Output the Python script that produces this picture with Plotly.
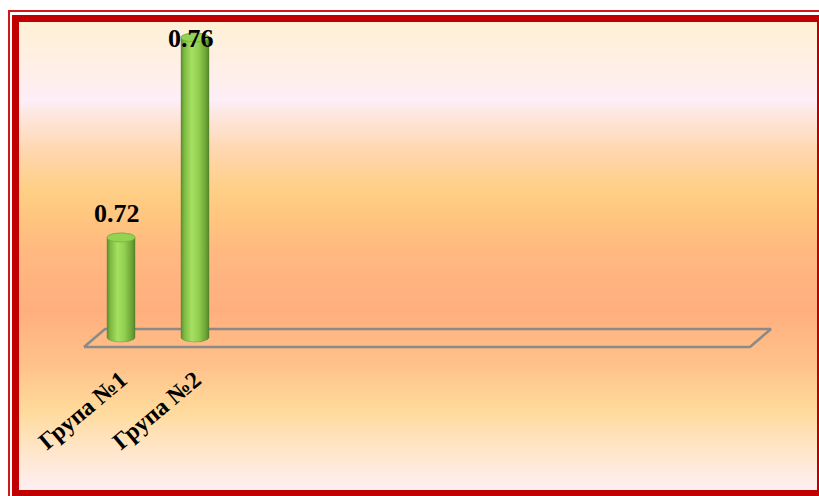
import numpy as np
import plotly.graph_objects as go

# ---------------- data ----------------
categories = ["Група №1", "Група №2"]
values = [0.72, 0.76]
n_slots = 9          # category slots on the floor (only first two used)
y_base = 0.70        # axis minimum (bars start here)

# ---------------- geometry / style constants ----------------
W, H = 819, 496
PX_PER_X = 74.0        # pixels per category slot
PX_PER_Y = 5000.0      # pixels per value unit
X0_PX = 121.0          # pixel of category 0
YBASE_PX = 337.5       # pixel of y_base
plot_px = dict(left=60, right=800, top=22, bottom=360)

def px_to_x(px):
    return (px - X0_PX) / PX_PER_X

def py_to_y(py):
    return y_base + (YBASE_PX - py) / PX_PER_Y

x_range = [px_to_x(plot_px["left"]), px_to_x(plot_px["right"])]
y_range = [py_to_y(plot_px["bottom"]), py_to_y(plot_px["top"])]

half_w = 14 / PX_PER_X
ell_h = 4.5 / PX_PER_Y
depth_dx = 21 / PX_PER_X
depth_dy = 18 / PX_PER_Y
front_y = py_to_y(347)

bg_stops = [
    (22, "#FFF1D6"), (60, "#FFEFE3"), (100, "#FDEEF8"), (120, "#FEE4D6"),
    (153, "#FFD6AC"), (190, "#FFCF85"), (220, "#FFC47F"), (253, "#FFB880"),
    (310, "#FFAF7E"), (367, "#FFC38A"), (410, "#FFDA9C"), (450, "#FFE6C9"),
    (490, "#FDEEF2"),
]

fig = go.Figure()

# ---------------- background gradient (own axes, drawn first) ----------------
ys = np.linspace(bg_stops[0][0], bg_stops[-1][0], 240)
span = bg_stops[-1][0] - bg_stops[0][0]
zcol = (ys - bg_stops[0][0]) / span
fig.add_trace(go.Heatmap(
    x=[0, 1], y=ys, z=np.column_stack([zcol, zcol]),
    colorscale=[[(p - bg_stops[0][0]) / span, c] for p, c in bg_stops],
    zmin=0, zmax=1, showscale=False, zsmooth="best", hoverinfo="skip",
    xaxis="x", yaxis="y",
))

# ---------------- floor (3D base) ----------------
fx0, fx1 = -0.5, n_slots - 0.5
fig.add_trace(go.Scatter(
    x=[fx0, fx1, fx1 + depth_dx, fx0 + depth_dx, fx0],
    y=[front_y, front_y, front_y + depth_dy, front_y + depth_dy, front_y],
    mode="lines", line=dict(color="#8A8A8A", width=2.5),
    hoverinfo="skip", showlegend=False, xaxis="x2", yaxis="y2",
))

# ---------------- cylinders ----------------
t_low = np.linspace(np.pi, 2 * np.pi, 40)   # lower half (front)
t_up = np.linspace(0, np.pi, 40)            # upper half (back)
t_full = np.linspace(0, 2 * np.pi, 80)
body_scale = [[0.0, "#5B922B"], [0.12, "#7DB942"], [0.38, "#A6E062"],
              [0.62, "#92D050"], [0.88, "#6DA536"], [1.0, "#55862A"]]
for i, v in enumerate(values):
    bx = list(i + half_w * np.cos(t_low)) + list(i + half_w * np.cos(t_up))
    by = list(y_base + ell_h * np.sin(t_low)) + list(v + ell_h * np.sin(t_up))
    bx.append(bx[0]); by.append(by[0])
    fig.add_trace(go.Scatter(
        x=bx, y=by, mode="lines", fill="toself",
        line=dict(width=0.6, color="rgba(80,120,40,0.6)"),
        fillgradient=dict(type="horizontal", colorscale=body_scale),
        hoverinfo="skip", showlegend=False, xaxis="x2", yaxis="y2",
    ))
    fig.add_trace(go.Scatter(
        x=i + half_w * np.cos(t_full), y=v + ell_h * np.sin(t_full),
        mode="lines", fill="toself", fillcolor="#94D352",
        line=dict(width=0.8, color="#78B23E"),
        hoverinfo="skip", showlegend=False, xaxis="x2", yaxis="y2",
    ))

# ---------------- value labels ----------------
label_font = dict(family="Liberation Serif, Times New Roman, serif", size=26,
                  color="black", weight="bold")
label_gap = 7 / PX_PER_Y
label_h = 26 / PX_PER_Y
for i, v in enumerate(values):
    ly = v + label_gap
    anchor = "bottom"
    if ly + label_h > y_range[1]:
        ly = y_range[1]
        anchor = "top"
    fig.add_annotation(x=i - 0.06, y=ly, xref="x2", yref="y2", text=f"{v:.2f}",
                       showarrow=False, yanchor=anchor, font=label_font)

# ---------------- frame ----------------
shapes = [
    dict(type="rect", xref="paper", yref="paper", layer="above",
         x0=9 / W, x1=1.05, y0=-0.05, y1=1 - 11 / H,
         line=dict(color="#D01818", width=2)),
    dict(type="rect", xref="paper", yref="paper", layer="above",
         x0=15.5 / W, x1=820.5 / W, y0=1 - 493.5 / H, y1=1 - 18.5 / H,
         line=dict(color="#C00000", width=7)),
]

fig.update_layout(
    width=W, height=H, autosize=False,
    margin=dict(l=0, r=0, t=0, b=0, pad=0, autoexpand=False),
    paper_bgcolor="white", plot_bgcolor="rgba(0,0,0,0)",
    showlegend=False, shapes=shapes,
    xaxis=dict(domain=[19 / W, 1], range=[0, 1], visible=False, fixedrange=True,
               automargin=False),
    yaxis=dict(domain=[1 - 490 / H, 1 - 22 / H], range=[490, 22], visible=False,
               fixedrange=True, automargin=False),
    xaxis2=dict(domain=[plot_px["left"] / W, plot_px["right"] / W], range=x_range,
                anchor="y2", showgrid=False, zeroline=False, showline=False,
                automargin=False,
                tickmode="array", tickvals=list(range(len(categories))),
                ticktext=categories, tickangle=-40, ticks="",
                tickfont=dict(family="Liberation Serif, Times New Roman, serif",
                              size=24, color="black", weight="bold")),
    yaxis2=dict(domain=[1 - plot_px["bottom"] / H, 1 - plot_px["top"] / H],
                range=y_range, anchor="x2", visible=False, automargin=False),
)

post = ("document.documentElement.style.margin='0';"
        "document.documentElement.style.overflow='hidden';"
        "document.body.style.margin='0';document.body.style.padding='0';"
        "document.body.style.overflow='hidden';")
fig.write_html("out.html", post_script=post,
               config={"displayModeBar": False, "responsive": False})
